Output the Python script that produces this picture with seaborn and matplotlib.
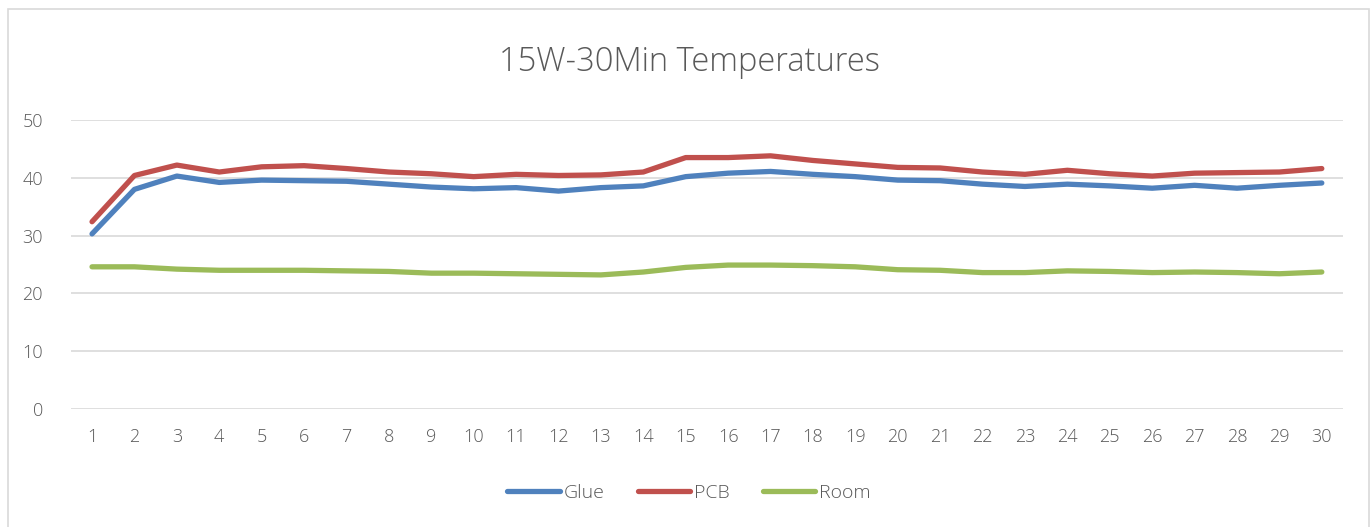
import matplotlib
matplotlib.use("Agg")
import matplotlib.pyplot as plt
from matplotlib.patches import Rectangle
import numpy as np
import pandas as pd
import seaborn as sns

minutes = list(range(1, 31))
glue = [30.3, 38.0, 40.3, 39.2, 39.6, 39.5, 39.4, 38.9, 38.4, 38.1,
        38.3, 37.7, 38.3, 38.6, 40.2, 40.8, 41.1, 40.6, 40.2, 39.6,
        39.5, 38.9, 38.5, 38.9, 38.6, 38.2, 38.7, 38.2, 38.7, 39.1]
pcb = [32.4, 40.4, 42.2, 41.0, 41.9, 42.1, 41.6, 41.0, 40.7, 40.2,
       40.6, 40.4, 40.5, 41.0, 43.5, 43.5, 43.8, 43.0, 42.4, 41.8,
       41.7, 41.0, 40.6, 41.3, 40.7, 40.3, 40.8, 40.9, 41.0, 41.6]
room = [24.6, 24.6, 24.2, 24.0, 24.0, 24.0, 23.9, 23.8, 23.5, 23.5,
        23.4, 23.3, 23.2, 23.7, 24.5, 24.9, 24.9, 24.8, 24.6, 24.1,
        24.0, 23.6, 23.6, 23.9, 23.8, 23.6, 23.7, 23.6, 23.4, 23.7]
series_names = ["Glue", "PCB", "Room"]
y_ticks = [0, 10, 20, 30, 40, 50]

palette = {"Glue": "#4F81BD", "PCB": "#C0504D", "Room": "#9BBB59"}
text_color = "#595959"
grid_color = "#D9D9D9"

df = pd.DataFrame({"minute": minutes, "Glue": glue, "PCB": pcb, "Room": room})
long_df = df.melt(id_vars="minute", value_vars=series_names,
                  var_name="series", value_name="temp")

sns.set_theme(style="white")
plt.rcParams["font.family"] = ["Open Sans", "DejaVu Sans"]
plt.rcParams["font.weight"] = "light"

fig = plt.figure(figsize=(13.7, 5.27), dpi=100)
ax = fig.add_axes([0.0517, 0.2239, 0.9286, 0.5484])

# chart area border like the spreadsheet frame
fig.patches.append(Rectangle((8 / 1370, -0.05), 1361 / 1370, 1.05 - 9 / 527,
                             transform=fig.transFigure, fill=False,
                             edgecolor=grid_color, linewidth=1.2))

sns.lineplot(data=long_df, x="minute", y="temp", hue="series",
             hue_order=series_names, palette=palette, linewidth=3.8,
             solid_capstyle="round", ax=ax, legend=False)

ax.set_xlim(0.5, 30.5)
ax.set_ylim(0, 50)
ax.set_yticks(y_ticks)
ax.set_xticks(minutes)
ax.set_xticklabels([str(m) for m in minutes])
ax.yaxis.grid(True, color=grid_color, linewidth=1.2)
ax.set_axisbelow(True)
for s in ax.spines.values():
    s.set_visible(False)
ax.tick_params(axis="both", length=0, labelsize=13, colors=text_color)
ax.tick_params(axis="y", pad=20)
ax.tick_params(axis="x", pad=14)
ax.set_xlabel("")
ax.set_ylabel("")

fig.text(0.503, 1 - 62 / 527, "15W-30Min Temperatures", ha="center",
         va="center", fontsize=23.5, color=text_color, fontweight="light")

handles = [plt.Line2D([], [], color=palette[n], linewidth=3.8,
                      solid_capstyle="round") for n in series_names]
leg = fig.legend(handles, series_names, loc="center", ncol=3,
                 bbox_to_anchor=(0.503, 1 - 493 / 527), frameon=False,
                 fontsize=14, handlelength=2.7, handletextpad=0.2,
                 columnspacing=1.7)
for t in leg.get_texts():
    t.set_color(text_color)

fig.savefig("out.png", dpi=100)
